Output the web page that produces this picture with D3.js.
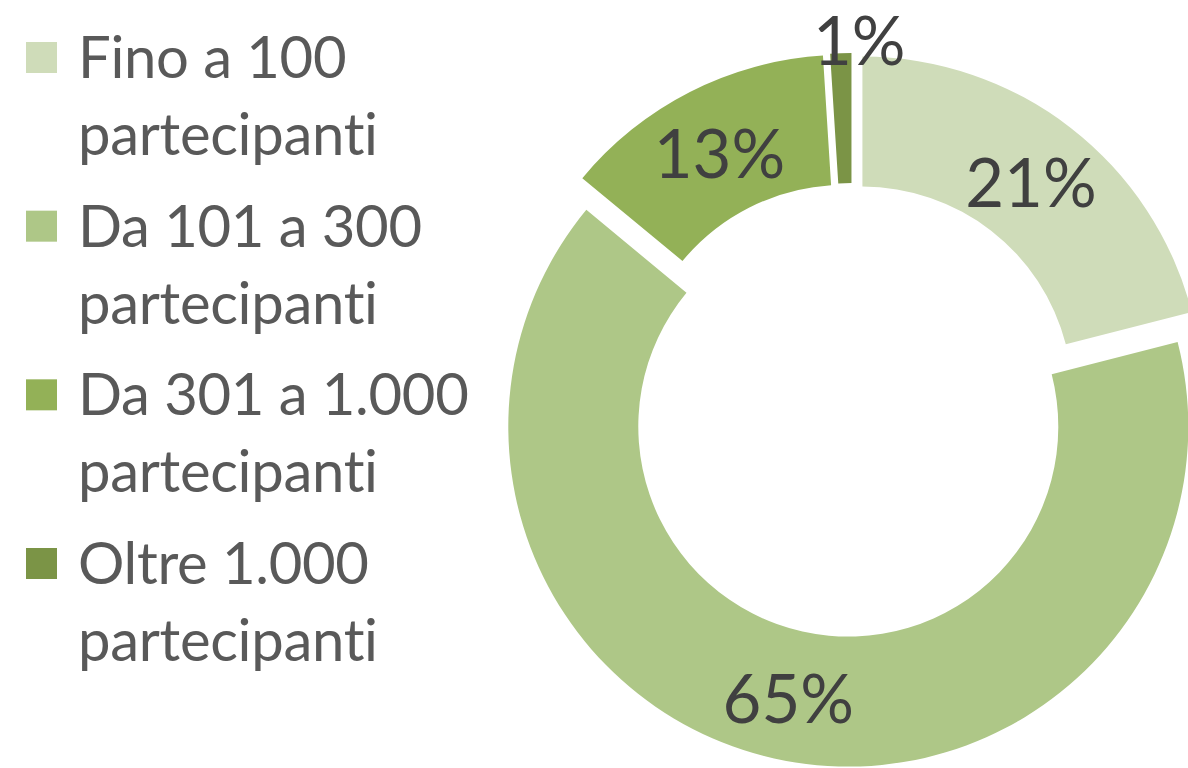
<!DOCTYPE html>
<html>
<head>
<meta charset="utf-8">
<script src="https://cdn.jsdelivr.net/npm/d3@7"></script>
<style>
  html, body { margin: 0; padding: 0; background: #fff; }
  svg { display: block; }
</style>
</head>
<body>
<div id="chart"></div>
<script>
// data
const categories = ["Fino a 100 partecipanti", "Da 101 a 300 partecipanti", "Da 301 a 1.000 partecipanti", "Oltre 1.000 partecipanti"];
const legendLines = [["Fino a 100", "partecipanti"], ["Da 101 a 300", "partecipanti"], ["Da 301 a 1.000", "partecipanti"], ["Oltre 1.000", "partecipanti"]];
const values = [21, 65, 13, 1];
const colors = ["#cfdcb9", "#aec787", "#93b157", "#7b9446"];

let width = 1188,
    height = 768;

let svg = d3.select("#chart")
    .append("svg")
    .attr("width", width)
    .attr("height", height);

svg.append("rect").attr("width", width).attr("height", height).attr("fill", "#fff");

// donut geometry
let cx = 852, cy = 410,
    outerR = 340, innerR = 210,
    explode = 17;

let pie = d3.pie().sort(null).value(d => d)(values);

let arc = d3.arc()
    .innerRadius(innerR)
    .outerRadius(outerR);

let donut = svg.append("g")
    .attr("transform", `translate(${cx}, ${cy})`);

// unit vector along the slice bisector
function dir(d) {
    let a = (d.startAngle + d.endAngle) / 2;
    return [Math.sin(a), -Math.cos(a)];
}

let slices = donut.selectAll("g.slice")
    .data(pie)
    .enter()
    .append("g")
    .attr("class", "slice")
    .attr("transform", d => {
        let [ux, uy] = dir(d);
        return `translate(${ux * explode}, ${uy * explode})`;
    });

slices.append("path")
    .attr("d", arc)
    .attr("fill", (d, i) => colors[i]);

// data labels: mid-ring, small slices go just outside the ring
slices.append("text")
    .attr("x", d => {
        let [ux] = dir(d);
        return d.data < 5 ? ux * (outerR + 16) + 19 : ux * (outerR + innerR) / 2;
    })
    .attr("y", d => {
        let [, uy] = dir(d);
        return d.data < 5 ? uy * (outerR + 16) : uy * (outerR + innerR) / 2;
    })
    .attr("dy", "0.42em")
    .style("text-anchor", "middle")
    .style("font-family", "Lato, 'Liberation Sans', sans-serif")
    .style("font-size", "67px")
    .attr("fill", "#404040")
    .text(d => d.data + "%");

// legend
let legend = svg.append("g");
let rowY = d3.scalePoint()
    .domain(categories)
    .range([78, 584]);

let items = legend.selectAll("g.item")
    .data(categories)
    .enter()
    .append("g")
    .attr("class", "item")
    .attr("transform", d => `translate(0, ${rowY(d)})`);

items.append("rect")
    .attr("x", 26)
    .attr("y", -36)
    .attr("width", 31)
    .attr("height", 31)
    .attr("fill", (d, i) => colors[i]);

items.each(function(d, i) {
    let t = d3.select(this).append("text")
        .attr("x", 78)
        .attr("y", 0)
        .style("font-family", "Lato, 'Liberation Sans', sans-serif")
        .style("font-size", "58px")
        .style("letter-spacing", "-0.3px")
        .attr("fill", "#595959");
    legendLines[i].forEach((line, k) => {
        t.append("tspan")
            .attr("x", 78)
            .attr("y", k * 77)
            .text(line);
    });
});
</script>
</body>
</html>
